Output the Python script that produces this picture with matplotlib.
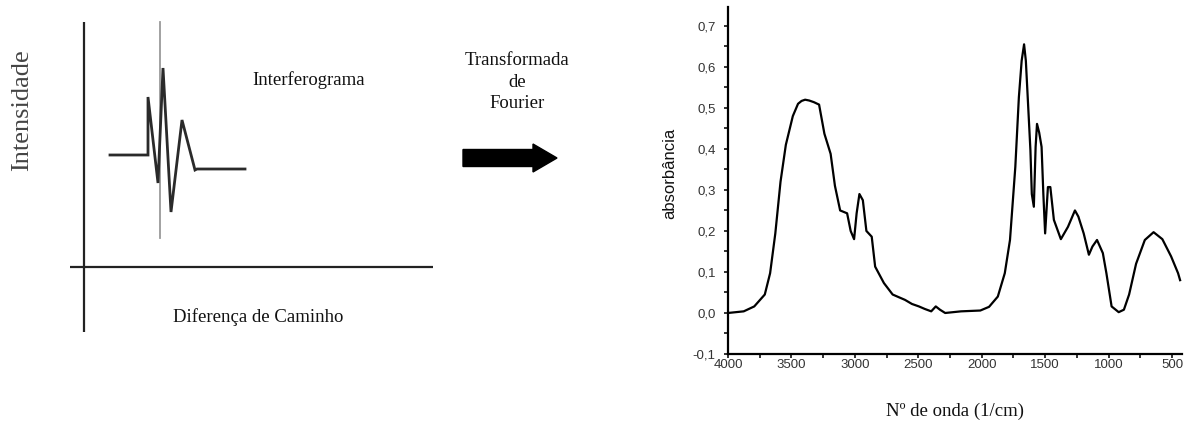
import matplotlib
matplotlib.use("Agg")
import matplotlib.pyplot as plt
from matplotlib.patches import FancyArrow

# ---------------- data ----------------
# Interferogram (arbitrary units: path difference vs intensity)
interf_x = [26, 64, 64, 74, 79, 87, 98, 111, 113, 161]
interf_y = [112, 112, 170, 84, 199, 55, 147, 97, 98, 98]
spike_x = [76, 76]
spike_y = [29, 245]

# IR spectrum (wavenumber in 1/cm, absorbance)
wavenumber = [4000, 3876, 3793, 3710, 3668, 3627, 3586, 3544, 3489, 3448,
              3420, 3392, 3360, 3323, 3282, 3240, 3191, 3157, 3116, 3061,
              3033, 3006, 2986, 2964, 2937, 2909, 2867, 2840, 2771, 2702,
              2650, 2605, 2550, 2495, 2450, 2398, 2362, 2329, 2288, 2163,
              2011, 1942, 1873, 1818, 1777, 1735, 1707, 1685, 1666, 1652,
              1633, 1616, 1605, 1589, 1575, 1564, 1547, 1528, 1514, 1500,
              1478, 1459, 1431, 1376, 1320, 1265, 1238, 1196, 1155, 1127,
              1091, 1045, 1017, 976, 920, 879, 838, 783, 714, 645,
              576, 507, 452, 436]
absorbance = [0.000, 0.004, 0.016, 0.045, 0.097, 0.194, 0.320, 0.410, 0.480, 0.510,
              0.517, 0.520, 0.518, 0.514, 0.508, 0.437, 0.388, 0.310, 0.250, 0.243,
              0.200, 0.180, 0.243, 0.290, 0.275, 0.200, 0.186, 0.113, 0.073, 0.045,
              0.038, 0.032, 0.022, 0.016, 0.010, 0.004, 0.016, 0.008, 0.000, 0.004,
              0.006, 0.015, 0.040, 0.097, 0.178, 0.356, 0.526, 0.615, 0.655, 0.615,
              0.500, 0.397, 0.290, 0.259, 0.405, 0.461, 0.440, 0.405, 0.290, 0.194,
              0.307, 0.307, 0.227, 0.180, 0.210, 0.250, 0.235, 0.194, 0.142, 0.162,
              0.178, 0.146, 0.097, 0.016, 0.002, 0.008, 0.045, 0.120, 0.178, 0.197,
              0.180, 0.138, 0.097, 0.080]

x_ticks = [4000, 3500, 3000, 2500, 2000, 1500, 1000, 500]
x_ticklabels = ["4000", "3500", "3000", "2500", "2000", "1500", "1000", "500"]
y_ticks = [-0.1, 0.0, 0.1, 0.2, 0.3, 0.4, 0.5, 0.6, 0.7]
y_ticklabels = ["-0,1", "0,0", "0,1", "0,2", "0,3", "0,4", "0,5", "0,6", "0,7"]

# ---------------- figure ----------------
W, H = 1191, 423
fig = plt.figure(figsize=(W / 100, H / 100), dpi=100)
fig.patch.set_facecolor("white")

serif = ["Liberation Serif", "DejaVu Serif"]
sans = ["Liberation Sans", "DejaVu Sans"]

# Left panel: axes in pixel-like units, origin at the axis crossing
axl = fig.add_axes([0, 0, 600 / W, 1])
axl.set_xlim(-84, 516)
axl.set_ylim(-156, 267)
axl.axis("off")

axl.plot([-14, 349], [0, 0], color="#222222", lw=1.6, solid_capstyle="butt")
axl.plot([0, 0], [-65, 245], color="#222222", lw=1.6, solid_capstyle="butt")
axl.plot(spike_x, spike_y, color="#9a9a9a", lw=1.3)
axl.plot(interf_x, interf_y, color="#2a2a2a", lw=2.0, solid_joinstyle="miter")

axl.text(225, 187, "Interferograma", family=serif, fontsize=13.5,
         ha="center", va="center", color="#111111")
axl.text(174, -50, "Diferença de Caminho", family=serif, fontsize=13.5,
         ha="center", va="center", color="#111111")
axl.text(-62, 157, "Intensidade", family=serif, fontsize=19, rotation=90,
         ha="center", va="center", color="#444444")

axl.text(433, 207, "Transformada", family=serif, fontsize=13.5,
         ha="center", va="center", color="#111111")
axl.text(433, 185, "de", family=serif, fontsize=13.5,
         ha="center", va="center", color="#111111")
axl.text(433, 164, "Fourier", family=serif, fontsize=13.5,
         ha="center", va="center", color="#111111")

axl.add_patch(FancyArrow(379, 109, 94, 0, width=17, head_width=28,
                         head_length=24, length_includes_head=True,
                         color="black"))

# Right panel: IR spectrum
axr = fig.add_axes([728 / W, (H - 354) / H, (1182 - 728) / W, (354 - 7) / H])
axr.plot(wavenumber, absorbance, color="black", lw=1.6)
axr.set_xlim(4000, 421)
axr.set_ylim(-0.1, 0.746)
axr.spines["top"].set_visible(False)
axr.spines["right"].set_visible(False)
for s in ("left", "bottom"):
    axr.spines[s].set_linewidth(1.6)
axr.set_xticks(x_ticks)
axr.set_xticklabels(x_ticklabels)
axr.set_yticks(y_ticks)
axr.set_yticklabels(y_ticklabels)
axr.set_xticks([3750, 3250, 2750, 2250, 1750, 1250, 750], minor=True)
axr.set_yticks([-0.05, 0.05, 0.15, 0.25, 0.35, 0.45, 0.55, 0.65], minor=True)
axr.tick_params(axis="both", which="both", direction="out", length=3,
                width=1.3, colors="#222222", labelsize=9.5)
axr.tick_params(axis="x", which="major", pad=0.5)
axr.tick_params(axis="y", which="major", pad=6)
for lab in axr.get_xticklabels() + axr.get_yticklabels():
    lab.set_family(sans)
    lab.set_color("#333333")

fig.text(670 / W, 1 - 173 / H, "absorbância", family=sans, fontsize=12,
         rotation=90, ha="center", va="center", color="#111111")
fig.text(955 / W, 1 - 411 / H, "Nº de onda (1/cm)", family=serif,
         fontsize=13.5, ha="center", va="center", color="#111111")

fig.savefig("out.png", dpi=100, facecolor="white")
